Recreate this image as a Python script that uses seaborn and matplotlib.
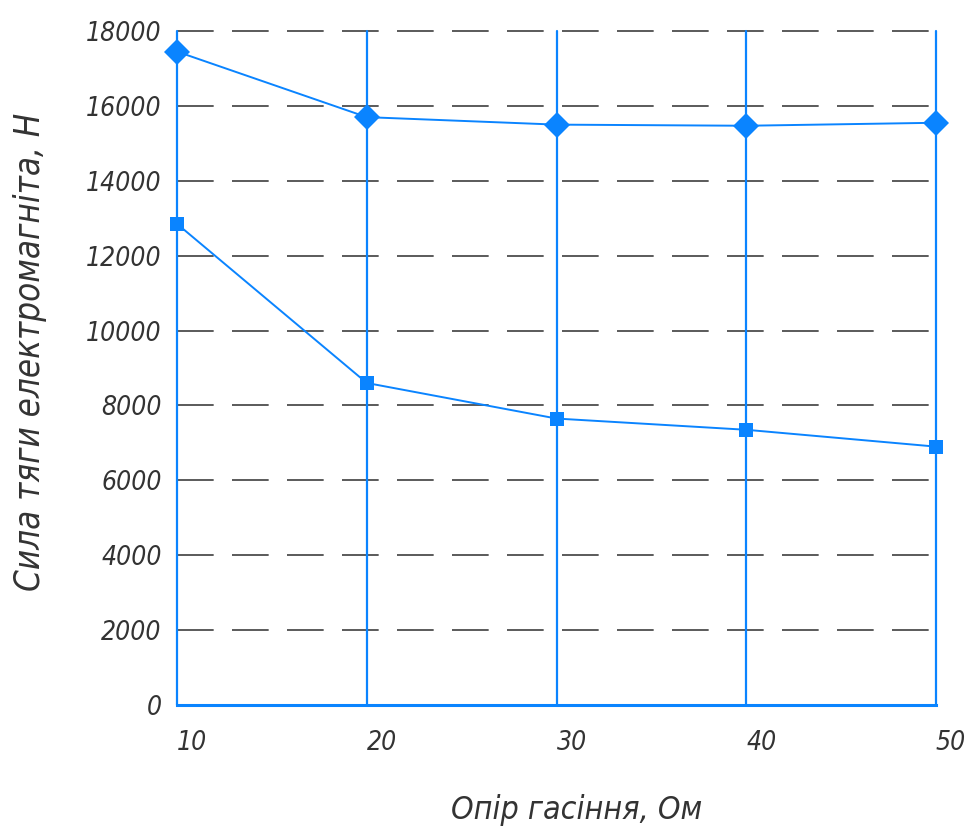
import matplotlib
matplotlib.use("Agg")
import matplotlib.pyplot as plt
import numpy as np
import pandas as pd
import seaborn as sns

# data
resistance = [10, 20, 30, 40, 50]
force_upper = [17450, 15700, 15500, 15470, 15550]
force_lower = [12850, 8600, 7650, 7350, 6900]
y_ticks = [0, 2000, 4000, 6000, 8000, 10000, 12000, 14000, 16000, 18000]

BLUE = "#0a84ff"
TEXT = "#333333"

sns.set_style("white")
plt.rcParams["font.family"] = ["DejaVu Sans"]
plt.rcParams["font.stretch"] = "condensed"

df = pd.DataFrame({
    "x": resistance * 2,
    "y": force_upper + force_lower,
    "series": ["upper"] * len(resistance) + ["lower"] * len(resistance),
})

fig = plt.figure(figsize=(9.76, 8.34), dpi=100)
ax = fig.add_axes([0.1814, 0.1547, 0.959 - 0.1814, 0.9628 - 0.1547])

# dashed horizontal grid
for t in y_ticks[1:]:
    ax.axhline(t, color="#2e2e2e", lw=1.1, ls=(0, (24, 12)), zorder=1, clip_on=False)
# blue vertical grid
for x in resistance:
    ax.axvline(x, color=BLUE, lw=1.6, zorder=2, clip_on=False)

sns.lineplot(data=df, x="x", y="y", hue="series", style="series",
             palette={"upper": BLUE, "lower": BLUE},
             markers={"upper": "D", "lower": "s"}, dashes=False,
             markersize=10, lw=1.4, markeredgewidth=0, legend=False,
             ax=ax, zorder=3)
for ln in ax.lines:
    ln.set_clip_on(False)
    if ln.get_marker() == "D":
        ln.set_markersize(13)

ax.set_xlim(10, 50)
ax.set_ylim(0, 18000)
ax.set_xticks(resistance)
ax.set_yticks(y_ticks)
ax.set_xticklabels([str(v) for v in resistance], ha="left")
ax.tick_params(axis="both", length=0, labelsize=19, labelcolor=TEXT)
ax.tick_params(axis="x", pad=18)
ax.tick_params(axis="y", pad=11)
for lab in ax.get_xticklabels() + ax.get_yticklabels():
    lab.set_fontstyle("italic")
    lab.set_fontstretch("condensed")

for s in ["top", "left", "right"]:
    ax.spines[s].set_visible(False)
ax.spines["bottom"].set_color(BLUE)
ax.spines["bottom"].set_linewidth(2.2)

ax.set_xlabel("Опір гасіння, Ом", fontsize=23, style="italic", color=TEXT)
ax.set_ylabel("Сила тяги електромагніта, Н", fontsize=25, style="italic", color=TEXT)
ax.xaxis.set_label_coords((577 - 177) / (936 - 177), -(810 - 705) / (705 - 31))
ax.yaxis.set_label_coords(-(177 - 30) / (936 - 177), (705 - 352) / (705 - 31))
ax.xaxis.label.set_va("center")
ax.yaxis.label.set_va("center")

fig.savefig("out.png", dpi=100)
